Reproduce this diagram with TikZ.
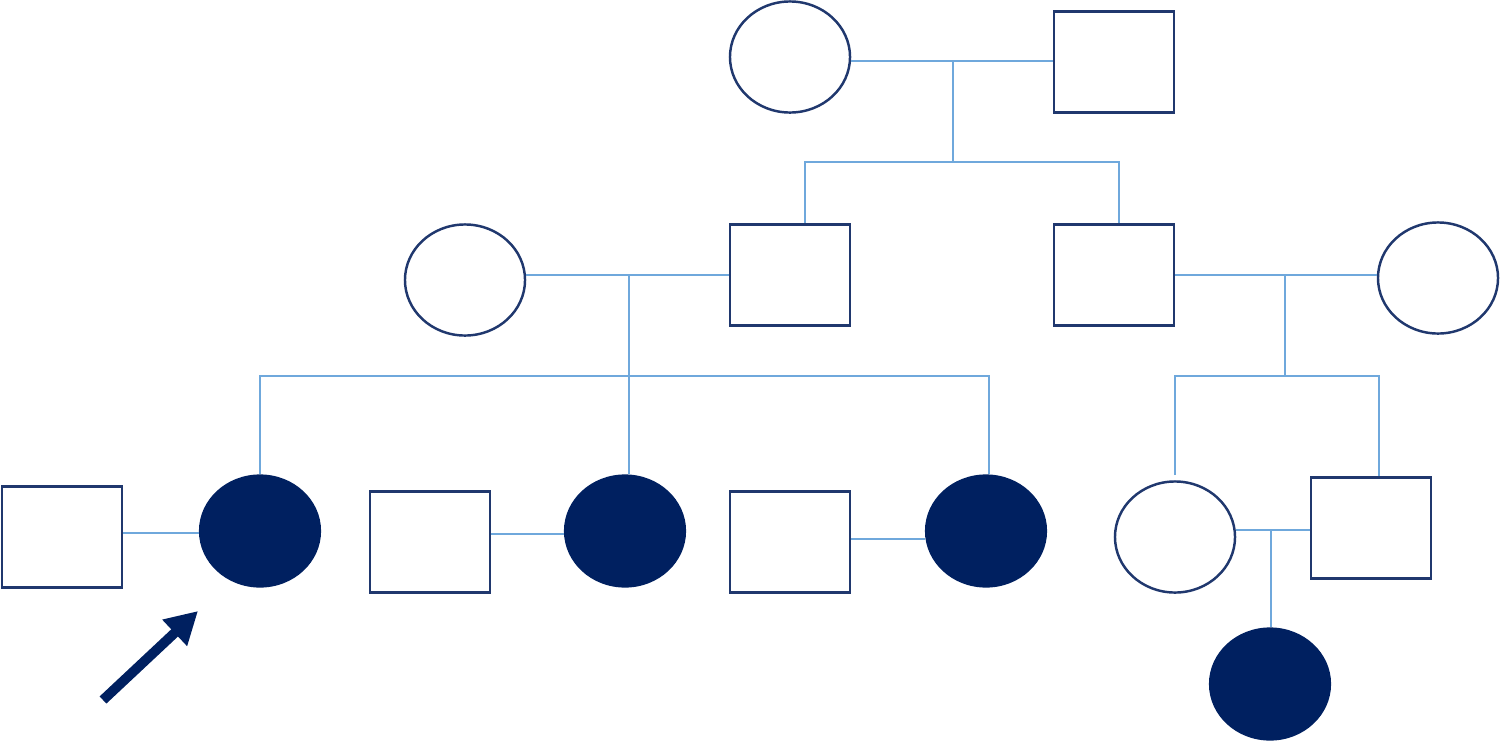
\documentclass[tikz,border=0pt]{standalone}
\usetikzlibrary{shapes.geometric,arrows.meta}
\definecolor{navy}{RGB}{0,32,96}
\definecolor{outline}{RGB}{32,56,110}
\definecolor{linkblue}{RGB}{111,168,220}
\begin{document}
\begin{tikzpicture}[x=0.01cm,y=-0.01cm,
  female/.style={ellipse,draw=outline,line width=0.7pt,fill=white,minimum width=1.2cm,minimum height=1.11cm,inner sep=0pt},
  affected/.style={ellipse,draw=navy,fill=navy,line width=0.6pt,minimum width=1.2cm,minimum height=1.11cm,inner sep=0pt},
  male/.style={rectangle,draw=outline,line width=0.7pt,fill=white,minimum width=1.2cm,minimum height=1.01cm,inner sep=0pt},
  link/.style={draw=linkblue,line width=0.8pt},
  proband/.style={draw=navy,line width=2.8pt,-{Triangle[length=0.32cm,width=0.34cm]}}]
\useasboundingbox (0,0) rectangle (1500,742);
% generation I
\node[female] (g1f) at (790,57) {};
\node[male] (g1m) at (1114,62) {};
% generation II
\node[female] (g2f1) at (465,280) {};
\node[male] (g2m1) at (790,275) {};
\node[male] (g2m2) at (1114,275) {};
\node[female] (g2f2) at (1438,278) {};
% generation III
\node[male] (g3m1) at (62,537) {};
\node[affected] (g3a) at (260,531) {};
\node[male] (g3m2) at (430,542) {};
\node[affected] (g3b) at (625,531) {};
\node[male] (g3m3) at (790,542) {};
\node[affected] (g3c) at (986,531) {};
\node[female] (g3f) at (1175,537) {};
\node[male] (g3m4) at (1371,528) {};
% generation IV
\node[affected] (g4) at (1270,684) {};
% junction coordinates
\coordinate (j1) at (953,61);
\coordinate (s1) at (953,162);
\coordinate (j2) at (629,275);
\coordinate (s2) at (629,376);
\coordinate (j3) at (1285,275);
\coordinate (s3) at (1285,376);
\coordinate (k1) at (0,533);
\coordinate (k2) at (0,534);
\coordinate (k3) at (0,539);
\coordinate (j4) at (1271,530);
% generation I connectors
\draw[link] (g1f.east |- j1) -- (g1m.west |- j1);
\draw[link] (j1) -- (s1);
\draw[link] ([xshift=0.15cm]g2m1.north) |- (s1) -| ([xshift=0.05cm]g2m2.north);
% generation II connectors
\draw[link] (g2f1.east |- j2) -- (g2m1.west |- j2);
\draw[link] (j2) -- (s2);
\draw[link] (g3a.north) |- (s2) -| ([xshift=0.03cm]g3c.north);
\draw[link] (s2) -- (s2 |- g3b.north);
\draw[link] (g2m2.east |- j3) -- (g2f2.west |- j3);
\draw[link] (j3) -- (s3);
\draw[link] ([yshift=0.05cm]g3f.north) |- (s3) -| ([xshift=0.08cm]g3m4.north);
% generation III connectors
\draw[link] (g3m1.east |- k1) -- (g3a.west |- k1);
\draw[link] (g3m2.east |- k2) -- (g3b.west |- k2);
\draw[link] (g3m3.east |- k3) -- (g3c.west |- k3);
\draw[link] (g3f.east |- j4) -- (g3m4.west |- j4);
\draw[link] (j4) -- (j4 |- g4.north);
% proband arrow
\coordinate (arrowtail) at (103,700);
\coordinate (arrowtip) at (198,611);
\draw[proband] (arrowtail) -- (arrowtip);
\end{tikzpicture}
\end{document}
